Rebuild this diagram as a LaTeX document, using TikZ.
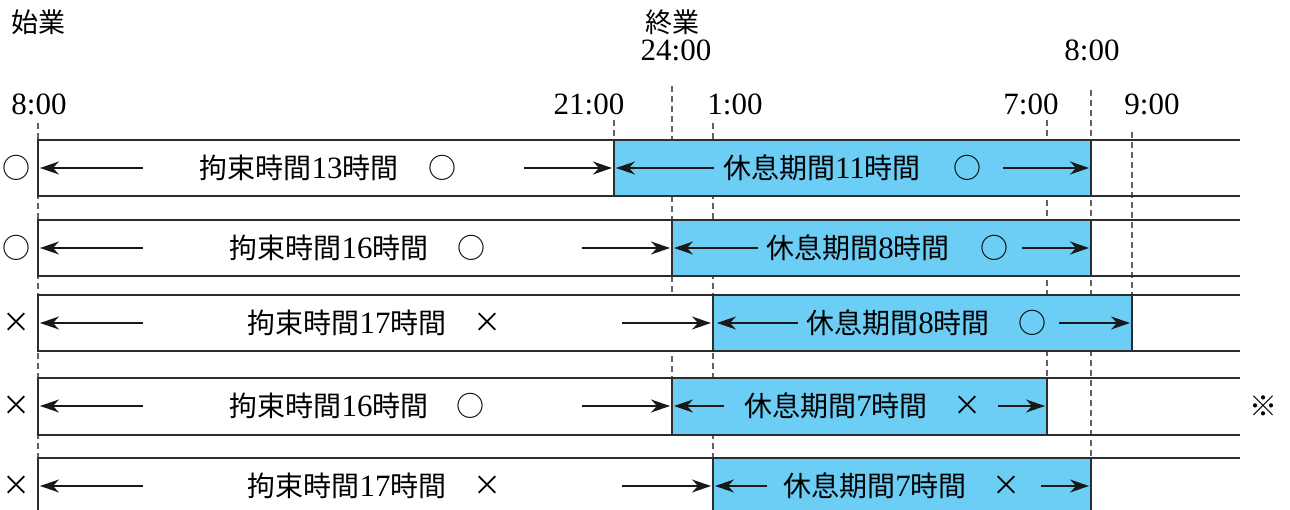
\documentclass[tikz,border=0pt]{standalone}
\usepackage{fontspec}
\setmainfont{Liberation Serif}
\newfontfamily\cjk{Noto Sans CJK JP}
\usetikzlibrary{arrows.meta}
\definecolor{restblue}{RGB}{108,206,245}
\definecolor{rowline}{RGB}{45,45,45}
\newcommand{\J}[1]{{\cjk #1}}
\newcommand{\D}[1]{{\fontsize{31}{32}\selectfont #1}}
\tikzset{
  lbl/.style={inner sep=0pt, font=\fontsize{28}{30}\selectfont},
  timelbl/.style={inner sep=0pt, font=\fontsize{31}{32}\selectfont},
  sym/.style={inner sep=0pt, font=\fontsize{28}{30}\selectfont\cjk},
  guide/.style={draw=black!62, line width=1.1pt, dash pattern=on 6pt off 4pt},
  rowedge/.style={draw=rowline, line width=1.2pt},
  blueblock/.style={fill=restblue, draw=rowline, line width=1.2pt},
  dimarrow/.style={draw=black!90, line width=1.1pt, -{Stealth[length=19pt,width=13pt,inset=6pt]}},
}
\begin{document}
\begin{tikzpicture}[x=1pt,y=-1pt]
\useasboundingbox (0,0) rectangle (1290,510);
\clip (0,0) rectangle (1290,510);
% headers
\node[lbl, font=\fontsize{27}{28}\selectfont\cjk] (start) at (39,22) {始業};
\node[lbl, font=\fontsize{27}{28}\selectfont\cjk] (end) at (672,22) {終業};
\node[timelbl] (t24) at (676,50) {24:00};
\node[timelbl] (t8b) at (1092,50) {8:00};
\node[timelbl] (t8) at (39,104) {8:00};
\node[timelbl] (t21) at (589,104) {21:00};
\node[timelbl] (t1) at (735,104) {1:00};
\node[timelbl] (t7) at (1031,104) {7:00};
\node[timelbl] (t9) at (1152,104) {9:00};
% guide lines
\coordinate (g8a) at (38,123);   \coordinate (g8b) at (38,512);
\coordinate (g21a) at (614,120); \coordinate (g21b) at (614,140);
\coordinate (g24a) at (672,86);  \coordinate (g24b) at (672,378);
\coordinate (g1a) at (713,123);  \coordinate (g1b) at (713,458);
\coordinate (g7a) at (1047,120); \coordinate (g7b) at (1047,378);
\coordinate (g8ca) at (1091,90); \coordinate (g8cb) at (1091,458);
\coordinate (g9a) at (1132,132); \coordinate (g9b) at (1132,294);
\foreach \a/\b in {g8a/g8b,g21a/g21b,g24a/g24b,g1a/g1b,g7a/g7b,g8ca/g8cb,g9a/g9b}
  \draw[guide] (\a) -- (\b);
% rows: top, bottom, blue start, blue end
\foreach \t/\bt/\bs/\be in {140/196/614/1091, 220/276/672/1091, 295/351/713/1132, 378/435/672/1047, 458/516/713/1091}{
  \fill[white] (38,\t) rectangle (\bs,\bt);
  \draw[blueblock] (\bs,\t) rectangle (\be,\bt);
  \draw[rowedge] (1240,\t) -- (38,\t) -- (38,\bt) -- (1240,\bt);
}
% row marks at left
\node[sym] (m1) at (16,168) {○};
\node[sym] (m2) at (16,248) {○};
\node[sym] (m3) at (16,323) {×};
\node[sym] (m4) at (16,406) {×};
\node[sym] (m5) at (16,486) {×};
% row 1
\node[lbl] (w1) at (299,168) {\J{拘束時間}\D{13}\J{時間}};
\node[sym] (w1m) at (442,168) {○};
\node[lbl] (b1) at (822,168) {\J{休息期間}\D{11}\J{時間}};
\node[sym] (b1m) at (967,168) {○};
% row 2
\node[lbl] (w2) at (329,248) {\J{拘束時間}\D{16}\J{時間}};
\node[sym] (w2m) at (471,248) {○};
\node[lbl] (b2) at (858,248) {\J{休息期間}\D{8}\J{時間}};
\node[sym] (b2m) at (994,248) {○};
% row 3
\node[lbl] (w3) at (347,323) {\J{拘束時間}\D{17}\J{時間}};
\node[sym] (w3m) at (487,323) {×};
\node[lbl] (b3) at (898,323) {\J{休息期間}\D{8}\J{時間}};
\node[sym] (b3m) at (1032,323) {○};
% row 4
\node[lbl] (w4) at (329,406) {\J{拘束時間}\D{16}\J{時間}};
\node[sym] (w4m) at (470,406) {○};
\node[lbl] (b4) at (836,406) {\J{休息期間}\D{7}\J{時間}};
\node[sym] (b4m) at (967,406) {×};
\node[sym] (note) at (1263,406) {※};
% row 5
\node[lbl] (w5) at (347,486) {\J{拘束時間}\D{17}\J{時間}};
\node[sym] (w5m) at (487,486) {×};
\node[lbl] (b5) at (875,486) {\J{休息期間}\D{7}\J{時間}};
\node[sym] (b5m) at (1006,486) {×};
% arrows
\foreach \y/\wa/\wb/\ba/\bb/\ca/\cb in {168/524/612/714/616/1003/1089, 248/582/670/758/674/1022/1089, 323/622/711/798/717/1059/1130, 406/582/670/724/674/998/1045, 486/622/711/767/715/1041/1089}{
  \coordinate (la) at (143,\y); \coordinate (lb) at (40,\y);
  \coordinate (wa) at (\wa,\y); \coordinate (wb) at (\wb,\y);
  \coordinate (ba) at (\ba,\y); \coordinate (bb) at (\bb,\y);
  \coordinate (ca) at (\ca,\y); \coordinate (cb) at (\cb,\y);
  \draw[dimarrow] (la) -- (lb);
  \draw[dimarrow] (wa) -- (wb);
  \draw[dimarrow] (ba) -- (bb);
  \draw[dimarrow] (ca) -- (cb);
}
\end{tikzpicture}
\end{document}
